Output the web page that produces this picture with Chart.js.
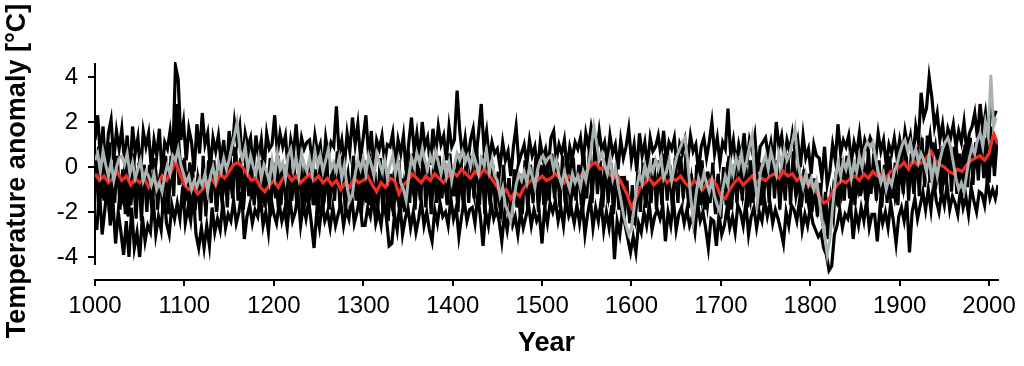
<!DOCTYPE html>
<html>
<head>
<meta charset="utf-8">
<script src="https://cdn.jsdelivr.net/npm/chart.js@4.4.1/dist/chart.umd.min.js"></script>
<style>
  html, body { margin: 0; padding: 0; background: #fff; }
  #wrap { width: 1024px; height: 366px; }
</style>
</head>
<body>
<div id="wrap"><canvas id="chart"></canvas></div>
<script>
const blackA = [
  1.2, 2.3, 0.4, 1.8, -0.2, 1.5, 2.1, 0.3, 1.6, 0.8,
  1.7, 0.2, 1.4, -0.4, 1.8, 0.6, 1.3, -0.3, 1.6, 0.9,
  1.5, -0.1, 1.2, 0.5, 1.7, -0.3, 1.1, 0.8, 1.6, 0.4,
  4.5, 3.9, 1.2, 2.0, 0.3, 1.7, 1.1, -0.2, 1.9, 0.6,
  2.4, 1.0, 1.5, -0.1, 1.3, 0.7, 1.4, 0.2, 1.2, -0.4,
  1.6, 0.5, 2.0, 1.1, 1.8, 0.2, 1.5, 0.9, 1.3, -0.1,
  1.4, 0.4, 1.2, -0.2, 1.5, 0.8, 1.0, 2.3, 0.6, 1.5,
  0.9, 1.4, -0.1, 1.2, 0.6, 1.9, 0.3, 1.3, 0.8, 1.1,
  1.2, 0.2, 1.4, 0.6, 1.0, -0.3, 1.3, 0.5, 1.1, 0.9,
  2.7, 0.6, 1.2, 0.1, 1.5, 0.7, 2.2, 1.0, 1.9, 0.4,
  1.3, 2.3, 0.5, 1.6, -0.1, 1.2, 0.8, 1.4, 0.2, 1.0,
  0.9, 1.5, 0.0, 1.2, 0.6, 1.4, -0.2, 1.1, 2.2, 0.7,
  1.5, 0.4, 2.0, 0.9, 1.3, 0.1, 1.7, 0.6, 1.8, 1.0,
  1.4, 0.3, 1.8, 0.9, 1.2, 3.4, 1.6, 0.5, 1.3, 0.2,
  1.2, 1.7, 0.4, 1.5, 2.8, 0.9, 1.6, 0.3, 1.1, 0.6,
  0.8, 0.0, 1.1, 0.3, 0.7, -0.4, 0.9, 1.8, 0.2, 0.6,
  1.0, 0.1, 1.2, 0.5, 0.9, -0.2, 1.1, 0.4, 0.8, 0.0,
  1.3, 1.6, 0.3, 1.0, 0.6, 1.2, -0.1, 0.9, 0.4, 1.1,
  0.8, 1.3, 0.2, 1.5, 0.9, 1.8, 1.2, 0.5, 1.6, 0.7,
  1.1, 0.2, 1.4, 0.6, 1.0, -0.1, 1.2, 0.4, 0.9, 1.7,
  0.3, 1.0, -0.2, 1.5, 0.5, 1.1, 0.0, 1.3, 0.7, 0.9,
  1.4, 0.5, 1.6, 0.2, 1.1, 0.8, 1.3, -0.1, 1.0, 0.6,
  1.2, 0.3, 1.4, 0.7, 1.0, -0.2, 0.9, 1.3, 0.4, 1.1,
  2.0, 0.6, 1.3, 0.2, 1.1, 0.8, 2.6, 0.5, 1.2, 0.1,
  1.0, 0.4, 1.5, 0.1, 1.2, 0.7, 1.4, -0.2, 0.9, 1.1,
  1.3, 0.5, 1.1, 0.2, 2.0, 0.9, 1.4, 0.3, 1.2, 0.7,
  1.5, 0.6, 1.2, 0.0, 1.4, 0.4, 0.8, -0.3, 1.0, 0.5,
  0.4, -0.5, 0.9, -0.8, -0.2, 1.0, 0.3, 1.9, 0.6, 1.2,
  0.9, 1.4, 0.2, 1.1, 0.6, 1.5, 0.4, 1.2, 0.8, 1.3,
  1.0, 0.3, 1.5, 0.7, 1.2, 0.1, 1.0, 0.6, 1.3, 0.4,
  1.2, 0.5, 1.6, 0.9, 1.4, 0.3, 1.8, 1.1, 3.3, 2.2,
  2.6, 4.0, 3.1, 1.8, 2.4, 1.2, 1.9, 0.8, 1.7, 1.3,
  1.9, 0.9, 1.6, 1.1, 2.0, 0.7, 1.5, 1.8, 2.4, 1.3,
  2.8, 1.6, 2.4, 1.2, 2.6, 2.2, 2.5
];
const blackB = [
  -0.6, 0.9, -1.4, 0.2, -0.9, 1.1, -1.6, 0.5, -0.4, -1.2,
  -1.5, 0.4, -2.2, -0.8, 0.6, -1.7, -0.3, -2.4, 0.1, -1.1,
  -0.9, -2.0, 0.3, -1.3, -0.4, -1.9, 0.5, -1.0, -0.2, 0.7,
  2.8, 0.9, -0.7, 0.4, -1.5, 0.2, -1.0, -1.8, -0.5, -1.3,
  -0.8, -1.9, 0.3, -1.2, -0.2, -2.0, 0.1, -1.5, -0.6, -1.1,
  -0.3, -1.4, 0.8, -0.6, 0.2, -1.7, -0.4, 0.5, -1.2, -0.7,
  -1.0, 0.3, -1.6, -0.5, -1.2, 0.4, -0.9, -0.1, -1.8, -0.3,
  -0.6, -1.5, 0.2, -1.0, -0.2, -1.3, 0.5, -0.8, -1.4, -0.3,
  -1.1, -0.2, -1.7, 0.1, -0.9, -1.5, -0.4, -1.8, 0.0, -1.0,
  -0.2, -1.3, 0.5, -1.0, -0.3, -1.6, 0.2, -0.7, -1.5, -0.1,
  -1.2, -0.3, -1.7, 0.4, -0.8, -1.4, -0.2, -1.9, -0.6, -1.1,
  -1.6, -0.5, -1.1, 0.3, -1.8, -0.7, -1.3, 0.1, -0.9, -1.5,
  -0.4, -1.4, 0.2, -1.0, -0.3, -1.7, -0.6, 0.4, -1.2, -0.8,
  -0.7, -1.6, 0.2, -0.3, -1.3, 0.6, -1.0, -1.5, -0.2, -0.9,
  -0.5, -1.2, 0.3, -0.9, 0.5, -1.5, -0.4, -1.7, -0.2, -1.0,
  -1.3, -2.0, -0.8, -1.6, -0.5, -1.9, -1.1, -0.3, -1.8, -1.0,
  -0.6, -1.4, 0.1, -1.1, -0.3, -1.6, -0.8, -0.1, -1.3, -0.5,
  -0.4, -1.2, 0.2, -0.9, -0.2, -1.5, -0.6, 0.1, -1.1, -0.7,
  -0.8, -0.1, -1.4, -0.5, 0.3, -1.0, 0.4, -0.6, -0.2, -1.1,
  -0.5, -1.3, -0.2, -1.8, -0.7, -1.1, -1.9, -0.4, -1.5, -2.2,
  -1.7, -2.3, -0.9, -1.4, -0.3, -1.8, -0.6, -1.2, -0.2, -1.0,
  -0.7, -1.3, 0.1, -1.0, -0.4, -1.6, -0.2, -0.9, 0.3, -1.2,
  -0.3, -1.5, -0.6, -2.0, -0.9, -0.1, -1.4, -0.7, -1.7, -0.5,
  -0.8, -1.9, -0.4, -1.6, -1.1, -0.3, -1.8, -0.9, -0.5, -1.4,
  -0.4, -1.2, 0.2, -0.9, -1.5, -0.3, -1.0, -0.6, -1.7, -0.2,
  -0.5, -1.1, 0.3, -0.8, -0.1, -1.4, -0.6, -1.0, 0.0, -0.9,
  -0.2, -1.3, -0.6, -1.7, -0.4, -1.1, -1.9, -0.8, -1.4, -2.0,
  -1.5, -2.4, -1.8, -3.2, -2.0, -0.9, -1.4, -0.5, -1.2, -0.3,
  -0.7, -0.1, -1.3, -0.5, -1.0, 0.2, -0.8, -0.2, -1.2, -0.4,
  -0.6, -1.2, -0.3, -1.5, -0.8, -0.1, -1.1, -0.5, -1.4, -0.9,
  -0.4, -1.0, 0.2, -0.7, -0.1, -1.2, 0.4, -0.3, 0.9, 0.1,
  0.6, 1.4, 0.2, 0.9, -0.3, 0.5, -0.6, 0.3, 1.0, -0.2,
  -0.1, 0.6, -0.5, 0.3, -0.8, 0.1, 0.8, -0.3, 0.5, 0.9,
  0.4, 1.1, -0.2, 0.8, 0.3, 1.3, 0.9
];
const blackC = [
  -2.8, -1.0, -3.0, -1.9, -0.7, -2.6, -1.5, -3.4, -2.0, -2.9,
  -3.9, -2.4, -4.0, -1.8, -3.6, -2.9, -4.0, -2.2, -3.3, -2.6,
  -2.9, -1.4, -3.0, -2.2, -2.8, -1.1, -2.5, -3.0, -1.7, -2.3,
  -1.6, -2.3, -0.9, -2.5, -1.8, -2.4, -1.2, -3.0, -3.6, -2.7,
  -3.6, -2.6, -3.5, -1.8, -2.9, -2.3, -2.8, -1.6, -2.7, -2.1,
  -2.4, -1.5, -2.5, -2.0, -1.1, -3.2, -2.2, -1.7, -2.5, -1.9,
  -2.2, -1.3, -2.6, -2.0, -2.9, -1.4, -2.1, -2.5, -1.6, -2.4,
  -1.9, -2.7, -1.4, -2.4, -2.0, -1.2, -2.6, -1.7, -2.3, -1.5,
  -2.5, -3.6, -2.0, -2.7, -1.6, -2.4, -2.0, -2.7, -1.8, -2.6,
  -2.1, -1.6, -2.6, -1.9, -2.3, -1.2, -2.5, -2.0, -1.4, -2.6,
  -2.6, -1.8, -2.2, -1.3, -2.5, -2.0, -2.6, -1.5, -2.3, -3.5,
  -3.4, -2.1, -2.8, -1.6, -3.0, -2.3, -1.8, -2.7, -2.0, -2.9,
  -2.3, -1.5, -2.6, -2.0, -2.8, -3.3, -1.9, -2.5, -1.6, -2.2,
  -2.0, -2.6, -1.4, -2.3, -1.8, -3.1, -2.2, -1.5, -2.4, -1.9,
  -1.8, -2.5, -1.3, -2.2, -3.5, -2.0, -2.6, -1.6, -2.3, -1.9,
  -2.4, -3.3, -2.1, -2.8, -1.9, -2.6, -2.2, -3.0, -2.0, -2.7,
  -2.2, -1.7, -2.6, -1.9, -2.4, -2.1, -3.4, -1.8, -2.5, -1.6,
  -2.0, -1.5, -2.4, -1.8, -2.6, -1.4, -2.2, -1.9, -2.5, -1.7,
  -2.5, -1.6, -3.0, -2.1, -1.4, -2.7, -1.8, -2.4, -1.5, -2.8,
  -2.0, -2.7, -1.7, -4.1, -2.4, -3.0, -1.9, -2.6, -3.2, -3.8,
  -3.1, -3.8, -2.5, -2.9, -2.0, -2.6, -1.7, -2.8, -2.2, -1.9,
  -2.3, -1.7, -3.3, -2.0, -2.6, -1.5, -2.8, -2.1, -1.8, -2.5,
  -1.9, -2.6, -2.2, -2.9, -1.6, -2.4, -2.0, -2.7, -3.6, -2.3,
  -2.4, -3.5, -2.1, -3.0, -2.6, -1.8, -2.7, -2.2, -2.9, -1.7,
  -2.0, -2.6, -1.6, -3.0, -2.2, -1.8, -2.7, -2.0, -2.4, -1.5,
  -2.2, -1.6, -2.5, -1.9, -2.3, -2.8, -3.4, -2.0, -2.6, -1.7,
  -1.9, -2.4, -1.5, -2.8, -2.1, -2.6, -1.8, -2.5, -2.8, -3.1,
  -2.9, -3.6, -3.9, -4.6, -4.4, -3.0, -2.6, -1.9, -2.7, -2.1,
  -2.3, -1.6, -3.2, -2.0, -2.6, -1.8, -2.4, -1.5, -2.7, -2.1,
  -2.1, -3.3, -1.8, -2.5, -2.0, -2.7, -1.6, -2.4, -3.4, -2.2,
  -1.8, -2.4, -1.5, -3.8, -2.0, -1.4, -2.3, -1.7, -1.1, -1.9,
  -1.0, -1.9, -0.6, -1.5, -2.0, -1.1, -1.7, -0.8, -1.9, -1.3,
  -1.6, -2.1, -1.0, -1.8, -1.3, -2.1, -0.9, -1.5, -2.0, -1.1,
  -1.2, -1.7, -0.6, -1.4, -1.0, -1.4, -0.8
];
const blackD = [
  0.4, -1.8, 0.2, -1.5, 0.6, -2.0, 0.1, -1.6, 0.5, -1.9,
  -0.1, -2.1, 0.3, -1.7, -0.4, -2.3, 0.2, -1.4, -0.2, -2.0,
  0.1, -1.6, 0.4, -1.9, -0.3, -1.5, 0.2, -2.1, 0.5, -1.3,
  1.6, -0.8, 0.3, -1.7, -0.2, -2.2, 0.1, -1.9, -0.5, -2.4,
  0.5, -2.2, -0.1, -1.6, 0.3, -2.0, -0.4, -1.5, 0.2, -1.8,
  0.6, -1.2, 0.9, -1.5, 0.4, -1.9, 0.7, -1.3, 0.1, -1.7,
  -0.2, -2.0, 0.3, -1.8, -0.4, -2.2, 0.2, -1.4, 0.5, -1.7,
  0.1, -1.9, 0.6, -1.5, -0.3, -1.8, 0.4, -2.0, 0.0, -1.6,
  0.5, -1.7, -0.1, -2.1, 0.3, -1.6, 0.6, -1.9, -0.2, -1.5,
  0.7, -1.8, 0.2, -2.0, -0.4, -1.7, 0.5, -1.5, 0.1, -2.1,
  0.3, -1.6, 0.6, -1.9, -0.2, -2.2, 0.4, -1.7, 0.0, -2.4,
  -0.3, -2.2, 0.2, -1.8, -0.5, -2.0, 0.1, -1.6, 0.6, -1.9,
  0.4, -1.5, 0.7, -1.8, 0.0, -2.1, 0.3, -1.6, 0.5, -1.4,
  0.2, -1.7, 0.6, -1.3, -0.1, -2.0, 0.5, -1.8, 0.3, -1.6,
  0.5, -1.4, 0.8, -1.7, 0.2, -2.1, 0.4, -1.5, 0.1, -1.9,
  -0.2, -2.3, 0.1, -2.0, -0.5, -2.4, -0.1, -1.8, -0.3, -2.1,
  0.3, -1.9, -0.2, -1.6, 0.4, -2.0, 0.1, -1.7, 0.3, -1.5,
  0.6, -1.4, 0.2, -1.8, 0.5, -1.6, 0.0, -1.9, 0.4, -1.5,
  0.1, -1.7, 0.5, -1.4, 0.8, -1.6, 0.9, -1.2, 0.3, -1.8,
  0.4, -1.6, 0.2, -2.1, -0.1, -1.9, -0.4, -2.3, -0.6, -2.5,
  -0.8, -2.6, -0.2, -2.0, 0.2, -1.8, 0.0, -1.6, 0.4, -1.9,
  0.3, -1.7, 0.6, -1.5, 0.1, -2.0, 0.4, -1.6, 0.5, -1.4,
  0.6, -1.8, -0.3, -2.2, 0.1, -1.7, 0.3, -1.9, -0.2, -1.6,
  0.2, -2.1, -0.3, -2.3, 0.0, -1.7, 0.5, -1.9, 0.1, -1.6,
  0.4, -1.5, 0.7, -1.8, 0.3, -1.6, 0.6, -2.0, 0.2, -1.4,
  0.5, -1.6, 0.8, -1.4, 0.3, -1.9, 0.1, -1.5, 0.6, -1.7,
  0.7, -1.3, 0.2, -1.8, -0.1, -1.6, -0.3, -2.0, -0.5, -2.2,
  -0.7, -2.6, -1.1, -3.0, -1.4, -2.2, -0.2, -1.8, 0.4, -1.5,
  0.5, -1.4, 0.2, -1.7, 0.6, -1.3, 0.3, -1.5, 0.8, -1.2,
  0.6, -1.5, 0.3, -1.8, 0.1, -1.6, 0.5, -1.4, 0.2, -1.7,
  0.7, -1.2, 1.0, -1.5, 0.6, -1.1, 0.9, -1.3, 1.3, -0.9,
  1.4, -0.7, 1.1, -1.0, 0.8, -1.2, 0.9, -0.8, 1.2, -1.1,
  0.9, -1.2, 0.6, -1.3, 1.0, -0.9, 1.3, -0.8, 1.1, -0.6,
  1.6, -0.5, 1.3, -0.7, 1.8, -0.4, 1.2
];
// grey single record, every 3rd year from 1000
const greySeries = [
  0.3, 0.6, -0.2, 0.7, 0.1, -0.4, 0.2, -0.6, 0.0, 0.4,
  0.5, 0.1, 0.6, -0.3, 0.2, -0.5, -0.1, 0.3, -0.6, -0.2,
  -0.4, -0.8, -0.3, -1.0, -0.7, -1.1, -0.4, 0.1, -0.3, 0.5,
  0.3, 0.8, 0.1, -0.3, -0.7, -0.4, -1.0, -0.6, -0.9, -0.5,
  -0.8, -0.3, -1.1, -0.4, 0.0, -0.6, 0.2, -0.2, 0.4, -0.1,
  0.3, 0.9, 1.4, 2.0, 0.8, 0.3, 0.9, -0.1, 0.5, 0.0,
  -0.3, 0.4, -0.5, 0.1, -0.2, -0.7, 0.3, -0.4, 0.6, -0.1,
  0.2, -0.5, 0.5, 0.8, -0.1, 0.4, -0.4, 0.6, 0.1, -0.2,
  0.4, -0.3, 0.7, 0.0, 0.5, -0.2, 0.3, 0.8, -0.1, 0.2,
  -0.2, 0.4, -0.5, 0.1, -0.9, -1.5, -1.2, -0.3, 0.3, -0.1,
  0.4, -0.3, 0.5, 0.1, -0.4, 0.6, 0.2, -0.2, 0.3, -0.5,
  0.1, 0.5, -0.3, 0.3, -0.7, -1.0, -1.5, -0.4, 0.4, 0.0,
  0.6, 0.2, 0.8, 0.3, -0.1, 0.5, 0.1, 0.7, 0.2, -0.3,
  0.3, -0.4, 0.2, -0.6, 0.1, 0.6, 0.3, 0.7, 0.2, 0.5,
  0.0, 0.6, 0.2, -0.3, 0.4, 0.1, 0.7, -0.2, 0.3, -0.4,
  -0.6, -1.3, -0.9, -1.7, -2.0, -2.4, -1.6, -0.8, -0.3, -0.6,
  -0.2, -0.7, 0.0, -0.4, -0.9, -0.1, 0.3, 0.5, 0.2, 0.4,
  0.5, -0.1, 0.3, -0.4, -0.8, -0.2, -0.6, -1.0, -0.3, -0.7,
  -0.4, -0.9, -0.2, -0.6, 0.1, 0.8, 1.8, 1.1, 0.3, 0.6,
  0.1, -0.3, 0.4, -0.5, 0.0, -0.8, -1.4, -2.1, -2.6, -3.0,
  -2.7, -1.8, -0.9, -0.3, -0.7, 0.1, -0.4, 0.2, -0.2, 0.3,
  -0.1, 0.4, -0.5, -0.2, 0.3, -0.6, 0.0, 0.5, 0.8, 1.1,
  1.3, 0.2, -1.2, -2.4, -1.3, -0.5, -0.9, -0.3, -0.7, -1.1,
  -0.6, -1.3, -1.7, -2.0, -1.0, -0.4, -0.8, 0.2, -0.3, 0.4,
  0.0, 0.6, -0.2, 0.3, 0.9, 1.4, -0.6, -1.5, -0.3, 0.2,
  0.5, -0.1, 0.7, 0.2, -0.3, 0.6, 0.1, 0.8, 0.3, 0.6,
  1.1, 1.7, 0.2, -0.4, -0.9, -0.3, -0.8, -0.5, -1.0, -0.6,
  -1.4, -2.3, -3.0, -3.9, -3.2, -1.8, -0.6, 0.2, -0.4, 0.3,
  -0.1, 0.4, -0.5, 0.2, -0.2, 0.5, 0.0, 0.8, 1.1, 0.9,
  1.1, 0.4, -0.2, -0.7, -0.3, -1.0, -0.5, -0.8, -0.2, 0.1,
  0.6, 1.0, 1.2, 0.7, 1.1, 0.4, 0.8, 0.2, 0.6, 0.3,
  -0.2, 0.5, -0.6, 0.2, -0.4, 0.3, 0.8, 1.1, 1.3, 0.9,
  0.2, -0.5, -1.0, -0.7, -1.1, -0.3, 0.4, 0.9, 0.6, 1.2,
  1.5, 0.9, 2.0, 1.4, 4.1, 1.8, 2.2
];
// red mean, every 5th year from 1000
const meanSeries = [
  -0.3, -0.6, -0.4, -0.7, -0.5, -0.2, -0.6, -0.4, -0.8, -0.5,
  -0.7, -0.5, -0.9, -0.6, -0.8, -0.4, -0.6, -0.2, 0.25, -0.3,
  -0.8, -1.0, -0.9, -1.2, -1.0, -0.7, -0.5, -0.8, -0.3, -0.5,
  -0.2, 0.1, 0.2, 0.0, -0.3, -0.6, -0.5, -0.9, -1.1, -0.8,
  -0.6, -0.9, -0.5, -0.3, -0.6, -0.4, -0.7, -0.5, -0.3, -0.6,
  -0.4, -0.7, -0.5, -0.8, -0.6, -1.0, -0.7, -0.9, -0.5, -0.7,
  -0.6, -0.4, -0.8, -1.1, -0.7, -0.9, -0.5, -0.6, -1.2, -0.8,
  -0.6, -0.3, -0.5, -0.7, -0.4, -0.6, -0.3, -0.5, -0.7, -0.4,
  -0.2, -0.4, -0.1, -0.3, -0.5, -0.2, -0.4, -0.1, -0.3, -0.6,
  -0.9, -1.2, -1.0, -1.4, -1.1, -1.3, -0.9, -0.7, -0.5, -0.6,
  -0.4, -0.6, -0.5, -0.3, -0.5, -0.7, -0.4, -0.6, -0.5, -0.3,
  -0.2, 0.1, 0.2, -0.1, 0.0, -0.3, -0.5, -0.4, -0.8, -1.2,
  -1.8, -1.4, -0.9, -0.7, -0.5, -0.8, -0.6, -0.4, -0.7, -0.5,
  -0.6, -0.4, -0.7, -0.9, -0.6, -0.8, -1.0, -0.7, -0.5, -0.8,
  -1.3, -1.4, -1.0, -0.7, -0.5, -0.8, -0.6, -0.4, -0.7, -0.5,
  -0.6, -0.4, -0.3, -0.5, -0.2, -0.4, -0.3, -0.6, -0.4, -0.7,
  -0.8, -1.0, -1.3, -1.6, -1.5, -1.1, -0.8, -0.6, -0.7, -0.5,
  -0.4, -0.6, -0.3, -0.5, -0.2, -0.4, -0.3, -0.5, -0.2, -0.1,
  0.0, 0.2, -0.1, 0.3, 0.1, 0.2, 0.4, 0.7, 0.3, 0.1,
  0.0, -0.2, -0.3, -0.1, -0.2, 0.1, 0.3, 0.4, 0.5, 0.3,
  0.6, 1.5, 1.0
];
const yearTicks = [1000, 1100, 1200, 1300, 1400, 1500, 1600, 1700, 1800, 1900, 2000];
const tempTicks = [-4, -3, -2, -1, 0, 1, 2, 3, 4];

function points(firstYear, step, values) {
  return values.map((v, i) => ({ x: firstYear + i * step, y: v }));
}

// the y axis line stops short of the x axis, as in the original
const yAxisLine = {
  id: "yAxisLine",
  beforeDatasetsDraw(chart) {
    const { ctx, chartArea, scales } = chart;
    ctx.save();
    ctx.strokeStyle = "#000";
    ctx.lineWidth = 2;
    ctx.beginPath();
    ctx.moveTo(chartArea.left, scales.y.getPixelForValue(4.62));
    ctx.lineTo(chartArea.left, scales.y.getPixelForValue(-4.36));
    ctx.stroke();
    ctx.restore();
  },
};

const font = "'Liberation Sans', Arial, sans-serif";
const black = "#000000";
const lineOpts = { pointRadius: 0, tension: 0, fill: false, borderJoinStyle: "miter" };

new Chart(document.getElementById("chart"), {
  type: "line",
  data: {
    datasets: [
      { ...lineOpts, data: points(1000, 3, greySeries), borderColor: "#a9b4b2", borderWidth: 3, order: 0 },
      { ...lineOpts, data: points(1000, 5, meanSeries), borderColor: "#ee2d24", borderWidth: 3.2, order: 1 },
      { ...lineOpts, data: points(1000, 3, blackA), borderColor: black, borderWidth: 3.2, order: 2 },
      { ...lineOpts, data: points(1001, 3, blackB), borderColor: black, borderWidth: 3.2, order: 2 },
      { ...lineOpts, data: points(1002, 3, blackC), borderColor: black, borderWidth: 3.2, order: 2 },
      { ...lineOpts, data: points(1001, 3, blackD), borderColor: black, borderWidth: 3.2, order: 2 },
    ],
  },
  options: {
    responsive: true,
    maintainAspectRatio: false,
    animation: false,
    layout: { padding: { top: 62, right: 26, bottom: 0, left: 0 } },
    plugins: { legend: { display: false }, tooltip: { enabled: false } },
    scales: {
      x: {
        type: "linear",
        min: 1000,
        max: 2010,
        afterFit: (s) => { s.height = 86; },
        afterBuildTicks: (s) => { s.ticks = yearTicks.map((v) => ({ value: v })); },
        ticks: {
          callback: (v) => String(v),
          color: black,
          font: { family: font, size: 24 },
          padding: 6,
          maxRotation: 0,
          autoSkip: false,
        },
        grid: { drawOnChartArea: false, drawTicks: true, tickLength: 6, color: black, lineWidth: 2 },
        border: { display: true, color: black, width: 2 },
        title: {
          display: true,
          text: "Year",
          color: black,
          font: { family: font, size: 27, weight: "bold" },
          padding: { top: 0, bottom: 6 },
        },
      },
      y: {
        min: -5.022,
        max: 4.667,
        afterFit: (s) => { s.width = 95; },
        afterBuildTicks: (s) => { s.ticks = tempTicks.map((v) => ({ value: v })); },
        ticks: {
          callback: (v) => (v % 2 === 0 ? String(v) : ""),
          color: black,
          font: { family: font, size: 24 },
          padding: 10,
        },
        grid: { drawOnChartArea: false, drawTicks: true, tickLength: 7, color: black, lineWidth: 2 },
        border: { display: false },
        title: {
          display: true,
          text: "Temperature anomaly [°C]",
          color: black,
          font: { family: font, size: 27, weight: "bold" },
          padding: { top: 1, bottom: 0 },
        },
      },
    },
  },
  plugins: [yAxisLine],
});
</script>
</body>
</html>
